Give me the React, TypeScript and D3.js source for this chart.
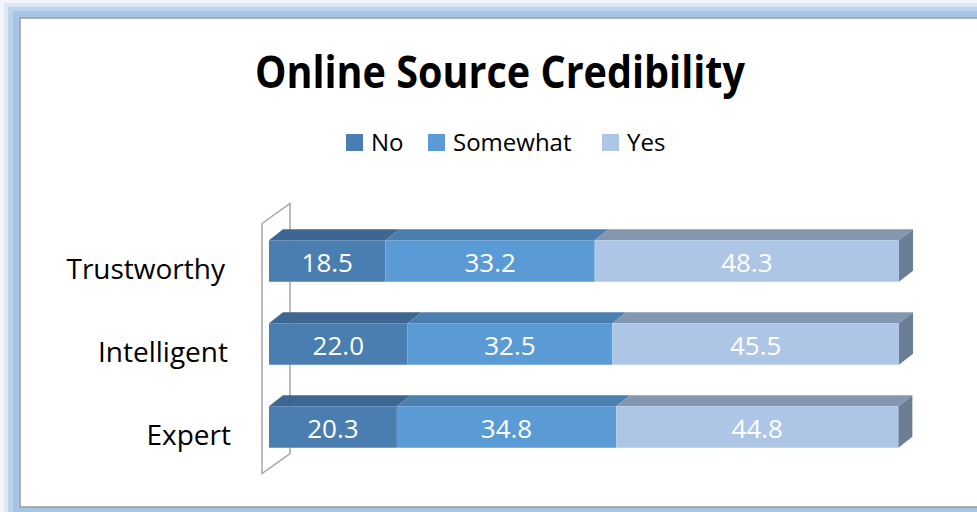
import React from 'react'
import * as d3 from 'd3'

const categories = ['Trustworthy', 'Intelligent', 'Expert']
const seriesNames = ['No', 'Somewhat', 'Yes']
const noValues = [18.5, 22.0, 20.3]
const somewhatValues = [33.2, 32.5, 34.8]
const yesValues = [48.3, 45.5, 44.8]

const FRONT = ['#4A7EB0', '#5B9BD5', '#ADC6E5']
const TOP = ['#3D6792', '#4B7FAF', '#8497B0']
const SIDE = '#6C7E94'

const W = 977
const H = 512
const FONT = '"Open Sans", "DejaVu Sans", sans-serif'

export default function App() {
  const x = d3.scaleLinear().domain([0, 100]).range([269, 899])
  const y = d3.scaleBand<string>().domain(categories).range([219.5, 468.5]).paddingInner(0.5).paddingOuter(0.25)

  // depth offsets for the 3D look
  const dx = 14
  const dy = 11
  const wallDx = 28
  const wallDy = 20

  const rows = categories.map((c, i) => {
    const vals = [noValues[i], somewhatValues[i], yesValues[i]]
    let acc = 0
    const segs = vals.map((v, k) => {
      const s = { k, v, x0: acc, x1: acc + v }
      acc += v
      return s
    })
    return { c, segs }
  })

  const wallX = x(0) - 7
  const wallTop = y.range()[0] + 4
  const wallBottom = y.range()[1] + 5

  const legendX = [346, 428, 602]

  return (
    <div style={{ position: 'fixed', left: 0, top: 0 }}>
      <svg width={W} height={H} style={{ display: 'block' }}>
        {/* glow frame */}
        <rect x={0} y={0} width={W} height={H} fill="#f2f6fb" />
        <rect x={4} y={3} width={W} height={H - 3} fill="#dce8f5" />
        <rect x={8} y={7} width={W} height={H - 7} fill="#bcd3ed" />
        <rect x={13} y={11} width={W} height={H - 11} fill="#a6c4e6" />
        <rect x={20} y={18} width={W} height={489} fill="#ffffff" stroke="#9a9a9a" strokeWidth={1.5} />

        <text x={500} y={88} textAnchor="middle" fontFamily={FONT} fontWeight="bold" fontSize={45}
          textLength={490} lengthAdjust="spacingAndGlyphs" fill="#000">
          Online Source Credibility
        </text>

        {/* legend */}
        {seriesNames.map((s, k) => (
          <g key={s}>
            <rect x={legendX[k]} y={134} width={17} height={17} fill={FRONT[k]} />
            <text x={legendX[k] + 25} y={151} fontFamily={FONT} fontSize={24} fill="#000">{s}</text>
          </g>
        ))}

        {/* back wall */}
        <path
          d={`M${wallX},${wallTop}L${wallX + wallDx},${wallTop - wallDy}L${wallX + wallDx},${wallBottom - wallDy}L${wallX},${wallBottom}Z`}
          fill="none" stroke="#a6a6a6" strokeWidth={1.5} />

        {/* bars */}
        {rows.map((r, i) => {
          const y0 = y(r.c)!
          const h = y.bandwidth()
          const last = r.segs[r.segs.length - 1]
          return (
            <g key={r.c}>
              {r.segs.map(s => (
                <g key={s.k}>
                  <path
                    d={`M${x(s.x0)},${y0}L${x(s.x0) + dx},${y0 - dy}L${x(s.x1) + dx},${y0 - dy}L${x(s.x1)},${y0}Z`}
                    fill={TOP[s.k]} />
                  <rect x={x(s.x0)} y={y0} width={x(s.x1) - x(s.x0)} height={h} fill={FRONT[s.k]} />
                  <text x={(x(s.x0) + x(s.x1)) / 2} y={y0 + h / 2 + 11} textAnchor="middle"
                    fontFamily={FONT} fontSize={26} fill="#ffffff">
                    {s.v.toFixed(1)}
                  </text>
                </g>
              ))}
              <path
                d={`M${x(last.x1)},${y0}L${x(last.x1) + dx},${y0 - dy}L${x(last.x1) + dx},${y0 + h - dy}L${x(last.x1)},${y0 + h}Z`}
                fill={SIDE} />
              <text x={225 + i * 3} y={y0 + h / 2 + 18} textAnchor="end" fontFamily={FONT} fontSize={28} fill="#000">
                {r.c}
              </text>
            </g>
          )
        })}
      </svg>
    </div>
  )
}
